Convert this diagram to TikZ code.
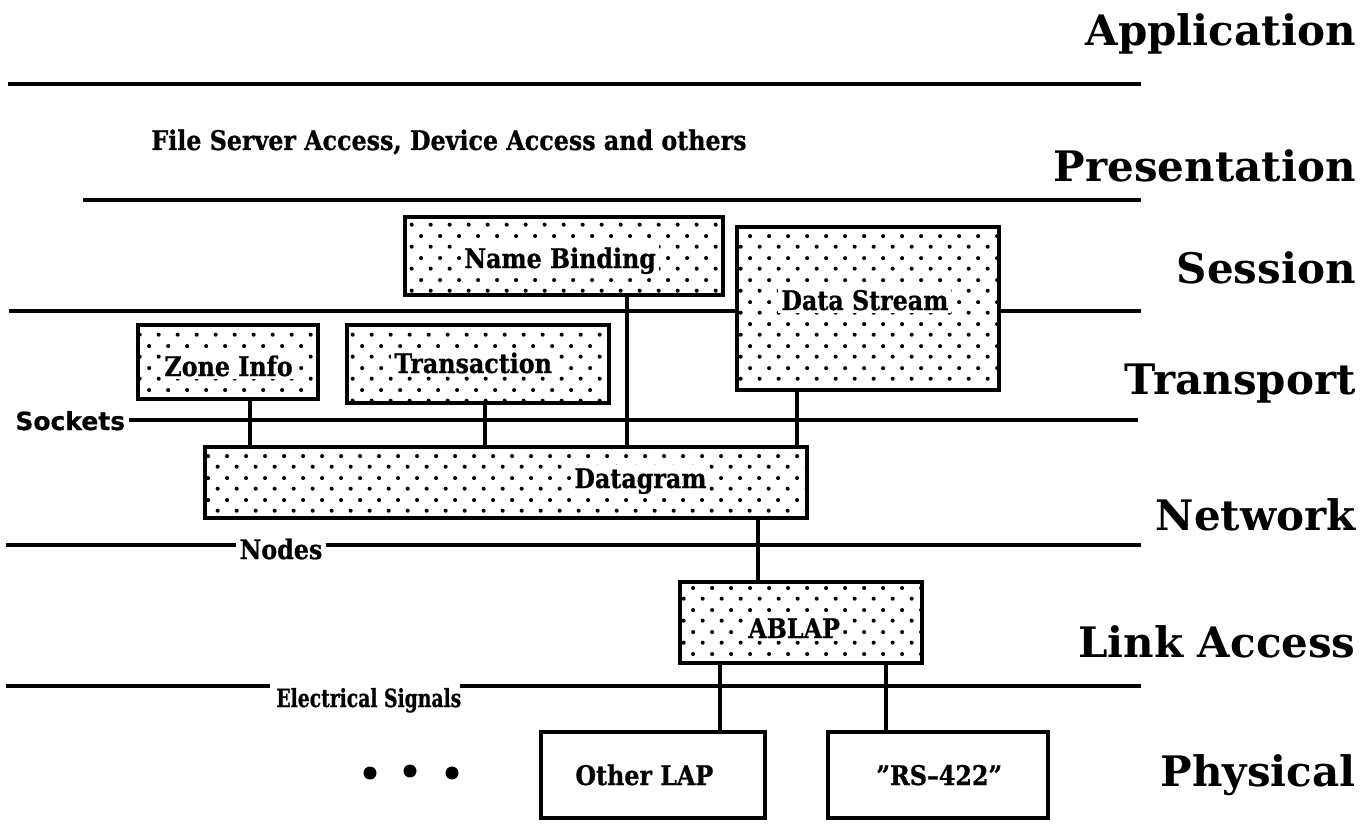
\documentclass[tikz,border=0pt]{standalone}
\usepackage{fontspec}
\usetikzlibrary{patterns.meta}

% Fonts: layer names on the right, and the smaller tags and box labels
\newfontfamily\layerfont{DejaVu Serif}
\newfontfamily\tagfont{DejaVu Serif}[FakeStretch=0.88, FakeBold=0.8]
\newfontfamily\narrowfont{DejaVu Serif}[FakeStretch=0.75, FakeBold=0.8]
\newfontfamily\sockfont{DejaVu Sans}[FakeBold=0.6]

% Staggered stipple used inside the protocol boxes
\pgfdeclarepattern{
  name=stipple,
  type=uncolored,
  bottom left={\pgfpoint{0pt}{0pt}},
  top right={\pgfpoint{9.7pt}{11pt}},
  tile size={\pgfpoint{9.7pt}{11pt}},
  code={
    \pgfpathcircle{\pgfpoint{2.4pt}{2.75pt}}{1.05pt}
    \pgfpathcircle{\pgfpoint{7.25pt}{8.25pt}}{1.05pt}
    \pgfusepath{fill}
  }
}

\tikzset{
  layerline/.style={line width=2pt},
  proto/.style={draw, rectangle, line width=2pt, inner sep=0pt,
                preaction={fill=white}, pattern=stipple, pattern color=black},
  plainbox/.style={draw, rectangle, line width=2pt, inner sep=0pt, fill=white},
  link/.style={line width=1.7pt},
  boxlabel/.style={fill=white, inner sep=1.5pt, anchor=base west,
                   font=\tagfont\bfseries\fontsize{13.5}{16}\selectfont},
  tag/.style={inner sep=1.5pt, anchor=base west,
              font=\tagfont\bfseries\fontsize{13.5}{16}\selectfont},
  layer/.style={inner sep=0pt, anchor=base east,
                font=\layerfont\bfseries\fontsize{21}{25}\selectfont},
}

\begin{document}
\begin{tikzpicture}[x=0.5pt, y=-0.5pt]
  \useasboundingbox (0,0) rectangle (1372,824);

  % layer names
  \node[layer] (app)   at (1356, 46)  {Application};
  \node[layer] (pres)  at (1356, 182) {Presentation};
  \node[layer] (sess)  at (1356, 283) {Session};
  \node[layer] (trans) at (1356, 394) {Transport};
  \node[layer] (net)   at (1356, 530) {Network};
  \node[layer] (link)  at (1356, 657) {Link Access};
  \node[layer] (phys)  at (1356, 786) {Physical};

  % boundaries between layers
  \draw[layerline] (8,84) -- (1141,84);
  \draw[layerline] (83,200) -- (1141,200);
  \draw[layerline] (9,311) -- (1141,311);

  \node[tag, font=\sockfont\bfseries\fontsize{12.5}{14}\selectfont, inner sep=0pt]
       (sockets) at (15,430) {Sockets};
  \draw[layerline] ([xshift=1.5pt]sockets.east |- 0,420) -- (1138,420);

  \node[tag, anchor=center] (nodes) at (281,549) {Nodes};
  \draw[layerline] (6,545) -- (nodes.west |- 0,545);
  \draw[layerline] (nodes.east |- 0,545) -- (1141,545);

  \node[tag, font=\narrowfont\bfseries\fontsize{12.5}{15}\selectfont] (elec) at (273,707) {Electrical Signals};
  \draw[layerline] (6,686) -- (270,686);
  \draw[layerline] (460,686) -- (1141,686);

  \node[tag] (apps) at (148,150) {File Server Access, Device Access and others};

  % protocol boxes
  \node[proto, minimum width=159pt, minimum height=39pt]   (nbp)   at (564,256)   {};
  \node[proto, minimum width=131pt, minimum height=81.5pt] (adsp)  at (868,308.5) {};
  \node[proto, minimum width=90pt,  minimum height=37pt]   (zip)   at (228,362)   {};
  \node[proto, minimum width=131pt, minimum height=39pt]   (atp)   at (478,364)   {};
  \node[proto, minimum width=301pt, minimum height=35.5pt] (ddp)   at (506,482.5) {};
  \node[proto, minimum width=121pt, minimum height=40.5pt] (ablap) at (801,622.5) {};
  \node[plainbox, minimum width=112pt, minimum height=43pt] (olap) at (653,775) {};
  \node[plainbox, minimum width=110pt, minimum height=43pt] (rs)   at (938,775) {};

  \node[boxlabel] (nbpl)   at (461,268) {Name Binding};
  \node[boxlabel] (adspl)  at (778,310) {Data Stream};
  \node[boxlabel] (zipl)   at (161,376) {Zone Info};
  \node[boxlabel] (atpl)   at (391,373) {Transaction};
  \node[boxlabel] (ddpl)   at (571,488) {Datagram};
  \node[boxlabel] (ablapl) at (745,638) {ABLAP};
  \node[boxlabel] (olapl)  at (572,785) {Other LAP};
  \node[boxlabel] (rsl)    at (873,785) {”RS–422”};

  % connections between the protocols
  \draw[link] ([xshift=11pt]zip.south)    -- ([xshift=11pt]zip.south |- ddp.north);
  \draw[link] ([xshift=3.5pt]atp.south)   -- ([xshift=3.5pt]atp.south |- ddp.north);
  \draw[link] ([xshift=31.5pt]nbp.south)  -- ([xshift=31.5pt]nbp.south |- ddp.north);
  \draw[link] ([xshift=-35.5pt]adsp.south) -- ([xshift=-35.5pt]adsp.south |- ddp.north);
  \draw[link] ([xshift=126pt]ddp.south)   -- ([xshift=126pt]ddp.south |- ablap.north);
  \draw[link] ([xshift=-40.5pt]ablap.south) -- ([xshift=-40.5pt]ablap.south |- olap.north);
  \draw[link] ([xshift=42.5pt]ablap.south)  -- ([xshift=42.5pt]ablap.south |- rs.north);

  % ellipsis for further link access protocols
  \fill (370,773) circle (6.5);
  \fill (410,771) circle (6.5);
  \fill (452,773) circle (6.5);
\end{tikzpicture}
\end{document}
